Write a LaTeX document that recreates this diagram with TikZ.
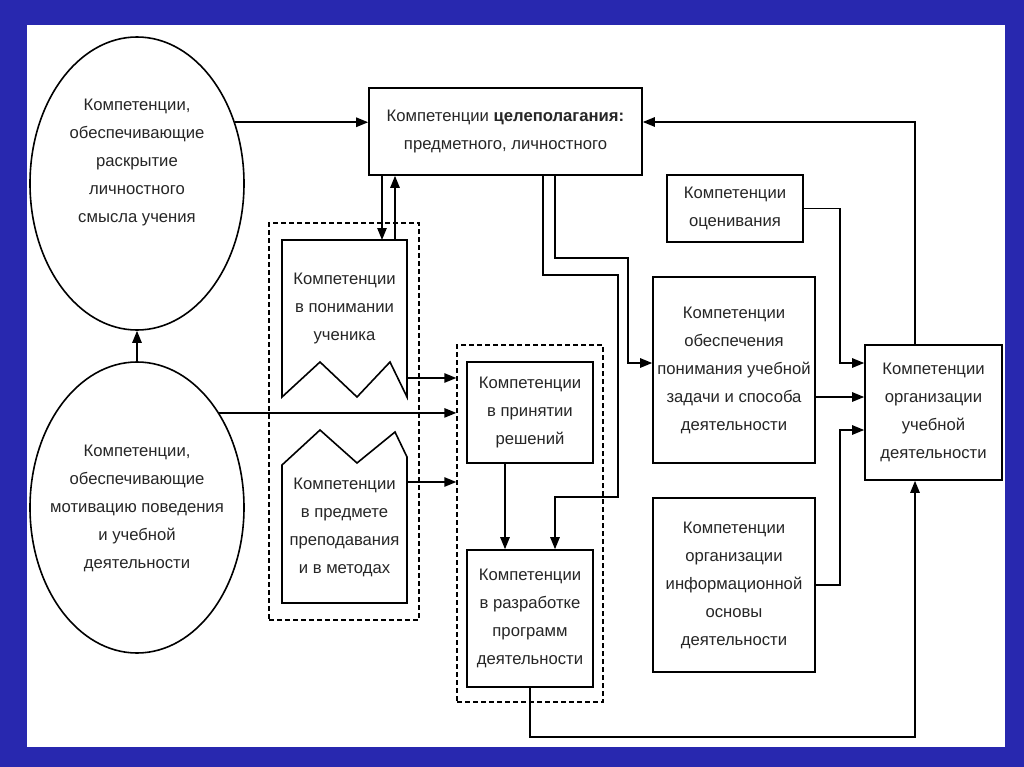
\documentclass[tikz,border=0pt]{standalone}
\usepackage{fontspec}
\setmainfont{Liberation Sans}
\usetikzlibrary{shapes.geometric,arrows.meta}
\definecolor{frameDark}{RGB}{40,40,175}
\definecolor{frameLight}{RGB}{150,150,228}
\tikzset{Box/.style={rectangle, draw, line width=1.2pt, inner xsep=1pt, align=center, text=black!85, font=\fontsize{12.5}{21}\selectfont}}
\tikzset{Txt/.style={align=center, text=black!85, font=\fontsize{12.5}{21}\selectfont}}
\tikzset{Ell/.style={ellipse, draw, line width=1.2pt, inner sep=0pt}}
\tikzset{Grp/.style={rectangle, draw, dash pattern=on 3.5pt off 2.5pt, line width=1pt, inner sep=0pt}}
\tikzset{Arr/.style={line width=1.2pt, -{Triangle[length=9pt,width=7pt]}}}
\tikzset{Ln/.style={line width=1.2pt, line join=miter}}
\begin{document}
\begin{tikzpicture}[x=0.75pt,y=-0.75pt]
            \useasboundingbox (0,0) rectangle (1024,767);
            \fill[frameDark] (0,0) rectangle (1024,767);
            \shade[top color=frameDark, middle color=frameLight, bottom color=frameDark] (0,25) rectangle (27,747);
            \shade[top color=frameDark, middle color=frameLight!80!frameDark, bottom color=frameDark] (1005,25) rectangle (1024,747);
            \fill[white] (27,25) rectangle (1005,747);

            \node[Ell, minimum width=160.5pt, minimum height=219.75pt] (circTop) at (137,183.5) {};
            \node[Txt] (circTopTxt) at (137,162) {Компетенции,\\обеспечивающие\\раскрытие\\личностного\\смысла учения};
            \node[Ell, minimum width=160.5pt, minimum height=218.25pt] (circBot) at (137,507.5) {};
            \node[Txt] (circBotTxt) at (137,508) {Компетенции,\\обеспечивающие\\мотивацию поведения\\и учебной\\деятельности};

            \node[Box, minimum width=204.75pt, minimum height=65.25pt] (goal) at (505.5,131.5)
                {Компетенции \textbf{целеполагания:}\\предметного, личностного};
            \node[Box, minimum width=102pt, minimum height=50.25pt] (eval) at (735,208.5) {Компетенции\\оценивания};
            \node[Box, minimum width=121.5pt, minimum height=139.5pt] (ensure) at (734,370)
                {Компетенции\\обеспечения\\понимания учебной\\задачи и способа\\деятельности};
            \node[Box, minimum width=121.5pt, minimum height=130.5pt] (info) at (734,585)
                {Компетенции\\организации\\информационной\\основы\\деятельности};
            \node[Box, minimum width=102.75pt, minimum height=101.25pt] (org) at (933.5,412.5)
                {Компетенции\\организации\\учебной\\деятельности};

            \node[Grp, minimum width=112.5pt, minimum height=297.75pt] (grpA) at (344,421.5) {};
            \node[Grp, minimum width=109.5pt, minimum height=267.75pt] (grpB) at (530,523.5) {};
            \node[Box, minimum width=94.5pt, minimum height=75.75pt] (decide) at (530,412.5) {Компетенции\\в принятии\\решений};
            \node[Box, minimum width=94.5pt, minimum height=102.75pt] (design) at (530,618.5)
                {Компетенции\\в разработке\\программ\\деятельности};

            \draw[Ln] (282,240) -- (407,240) -- (407,397) -- (390,362) -- (357,397) -- (320,362) -- (282,397) -- cycle;
            \node[Txt] (understand) at (344.5,308) {Компетенции\\в понимании\\ученика};
            \draw[Ln] (282,465) -- (320,430) -- (357,463) -- (395,432) -- (407,457) -- (407,603) -- (282,603) -- cycle;
            \node[Txt] (subject) at (344.5,527) {Компетенции\\в предмете\\преподавания\\и в методах};

            \coordinate (undIn) at (382,240);
            \coordinate (undOut) at (395,240);
            \coordinate (undR) at (407,378);
            \coordinate (subR) at (407,482);
            \coordinate (lnA) at (543,275);
            \coordinate (lnB) at (555,258);
            \coordinate (jA) at (628,363);
            \coordinate (jB) at (618,497);
            \coordinate (jC) at (840,363);
            \coordinate (jD) at (840,397);
            \coordinate (jE) at (840,430);
            \coordinate (backX) at (915,122);
            \coordinate (botY) at (915,737);

            \draw[Arr] (circBot.north) -- (circTop.south);
            \draw[Arr] (circTop.32.35) -- (circTop.32.35 -| goal.west);
            \draw[Arr] (circBot.49.26) -- (circBot.49.26 -| grpB.west);
            \draw[Arr] (goal.south -| undIn) -- (undIn);
            \draw[Arr] (undOut) -- (goal.south -| undOut);
            \draw[Arr] (undR) -- (undR -| grpB.west);
            \draw[Arr] (subR) -- (subR -| grpB.west);
            \draw[Arr] ([xshift=-18.75pt]decide.south) -- ([xshift=-18.75pt]design.north);
            \draw[Arr] (goal.south -| lnB) |- (jA |- lnB) -- (jA) -- (jA -| ensure.west);
            \draw[Arr] (goal.south -| lnA) |- (jB |- lnA) -- (jB) -| ([xshift=18.75pt]design.north);
            \draw[Arr] (eval.east) -| (jC) -- (jC -| org.west);
            \draw[Arr] (ensure.east |- jD) -- (jD -| org.west);
            \draw[Arr] (info.east) -| (jE) -- (jE -| org.west);
            \draw[Arr] (org.north -| backX) -- (backX) -- (backX -| goal.east);
            \draw[Arr] (design.south) -- (design.south |- botY) -- (botY) -- (org.south -| botY);
\end{tikzpicture}
\end{document}
